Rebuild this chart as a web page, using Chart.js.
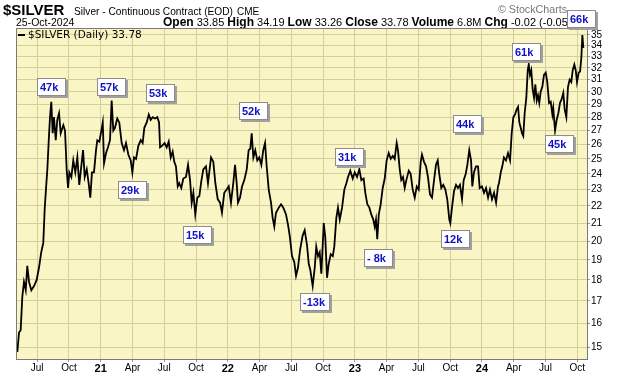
<!DOCTYPE html>
<html>
<head>
<meta charset="utf-8">
<script src="https://cdn.jsdelivr.net/npm/chart.js@4.4.1/dist/chart.umd.min.js"></script>
<style>
  html, body { margin: 0; padding: 0; background: #fff; }
  #wrap { width: 620px; height: 376px; }
</style>
</head>
<body>
<div id="wrap"><canvas id="silverChart" width="620" height="376"></canvas></div>
<script>
const dates = [
  2020.344, 2020.357, 2020.370, 2020.383, 2020.396, 2020.410, 2020.422, 2020.436, 2020.454, 2020.475,
  2020.496, 2020.514, 2020.532, 2020.548, 2020.559, 2020.569, 2020.580, 2020.591, 2020.601, 2020.611,
  2020.622, 2020.632, 2020.646, 2020.658, 2020.672, 2020.685, 2020.706, 2020.719, 2020.732, 2020.743,
  2020.753, 2020.769, 2020.784, 2020.800, 2020.816, 2020.831, 2020.847, 2020.861, 2020.874, 2020.890,
  2020.905, 2020.918, 2020.931, 2020.947, 2020.963, 2020.973, 2020.989, 2021.005, 2021.016, 2021.026,
  2021.042, 2021.057, 2021.073, 2021.086, 2021.099, 2021.112, 2021.130, 2021.146, 2021.165, 2021.183,
  2021.199, 2021.217, 2021.236, 2021.249, 2021.262, 2021.278, 2021.296, 2021.315, 2021.330, 2021.343,
  2021.362, 2021.378, 2021.393, 2021.409, 2021.427, 2021.445, 2021.459, 2021.467, 2021.482, 2021.503,
  2021.519, 2021.535, 2021.551, 2021.566, 2021.579, 2021.592, 2021.606, 2021.618, 2021.634, 2021.650,
  2021.671, 2021.687, 2021.703, 2021.716, 2021.729, 2021.744, 2021.760, 2021.776, 2021.791, 2021.807,
  2021.828, 2021.844, 2021.868, 2021.886, 2021.902, 2021.921, 2021.939, 2021.954, 2021.972, 2021.991,
  2022.007, 2022.025, 2022.043, 2022.057, 2022.070, 2022.080, 2022.096, 2022.112, 2022.130, 2022.149,
  2022.164, 2022.177, 2022.188, 2022.201, 2022.216, 2022.232, 2022.248, 2022.264, 2022.279, 2022.293,
  2022.306, 2022.322, 2022.340, 2022.353, 2022.366, 2022.379, 2022.401, 2022.419, 2022.437, 2022.458,
  2022.474, 2022.489, 2022.505, 2022.523, 2022.537, 2022.552, 2022.568, 2022.589, 2022.605, 2022.623,
  2022.637, 2022.649, 2022.668, 2022.684, 2022.696, 2022.710, 2022.723, 2022.736, 2022.755, 2022.767,
  2022.781, 2022.794, 2022.810, 2022.826, 2022.838, 2022.854, 2022.867, 2022.881, 2022.899, 2022.917,
  2022.933, 2022.946, 2022.964, 2022.983, 2022.999, 2023.017, 2023.035, 2023.051, 2023.069, 2023.082,
  2023.098, 2023.114, 2023.129, 2023.145, 2023.156, 2023.166, 2023.176, 2023.188, 2023.203, 2023.219,
  2023.235, 2023.250, 2023.266, 2023.282, 2023.298, 2023.313, 2023.329, 2023.339, 2023.353, 2023.365,
  2023.379, 2023.392, 2023.405, 2023.424, 2023.439, 2023.455, 2023.471, 2023.487, 2023.502, 2023.518,
  2023.528, 2023.544, 2023.560, 2023.575, 2023.591, 2023.607, 2023.623, 2023.638, 2023.652, 2023.664,
  2023.680, 2023.696, 2023.712, 2023.727, 2023.743, 2023.751, 2023.764, 2023.780, 2023.796, 2023.811,
  2023.827, 2023.843, 2023.856, 2023.872, 2023.885, 2023.900, 2023.914, 2023.924, 2023.937, 2023.953,
  2023.969, 2023.982, 2024.000, 2024.016, 2024.032, 2024.048, 2024.063, 2024.079, 2024.095, 2024.111,
  2024.126, 2024.134, 2024.148, 2024.160, 2024.173, 2024.189, 2024.205, 2024.221, 2024.234, 2024.247,
  2024.260, 2024.273, 2024.284, 2024.294, 2024.305, 2024.315, 2024.325, 2024.336, 2024.349, 2024.360,
  2024.368, 2024.378, 2024.388, 2024.399, 2024.410, 2024.420, 2024.431, 2024.441, 2024.451, 2024.462,
  2024.475, 2024.488, 2024.502, 2024.514, 2024.528, 2024.541, 2024.554, 2024.561, 2024.575, 2024.588,
  2024.601, 2024.614, 2024.627, 2024.640, 2024.651, 2024.664, 2024.677, 2024.690, 2024.703, 2024.714,
  2024.727, 2024.738, 2024.748, 2024.761, 2024.772, 2024.782, 2024.790, 2024.798
];
const closes = [
  14.8, 15.6, 15.7, 17.2, 17.9, 17.5, 18.7, 17.9, 17.5, 17.7,
  18.0, 18.6, 19.4, 19.9, 21.8, 23.0, 24.3, 26.3, 28.0, 29.2,
  26.8, 28.0, 26.3, 27.8, 28.3, 26.8, 27.4, 27.0, 24.3, 23.1,
  24.1, 23.8, 24.9, 24.1, 25.1, 23.3, 24.5, 25.6, 23.8, 24.3,
  23.4, 22.5, 24.1, 24.1, 25.6, 26.3, 26.2, 27.0, 27.6, 24.7,
  25.4, 25.8, 26.3, 29.3, 27.0, 27.2, 27.9, 27.6, 26.1, 25.6,
  26.1, 25.3, 24.9, 24.1, 25.1, 25.0, 25.9, 26.3, 26.1, 27.2,
  27.6, 28.2, 27.8, 28.0, 27.9, 28.0, 27.6, 25.8, 25.9, 26.1,
  25.8, 26.2, 25.1, 25.5, 24.8, 24.5, 23.2, 23.4, 23.1, 23.7,
  23.8, 24.6, 23.6, 22.2, 22.8, 21.5, 22.5, 22.6, 23.5, 24.3,
  24.5, 23.4, 25.1, 24.8, 23.4, 22.4, 22.2, 21.6, 22.8, 23.0,
  23.2, 22.2, 23.4, 24.6, 23.4, 22.2, 22.5, 23.2, 23.6, 24.3,
  25.6, 25.7, 26.8, 25.1, 25.6, 24.9, 25.1, 24.6, 25.6, 26.1,
  24.5, 23.0, 22.2, 21.3, 20.8, 21.6, 21.9, 22.1, 21.9, 21.5,
  20.9, 20.2, 19.2, 18.9, 18.2, 18.6, 19.5, 20.3, 20.6, 19.8,
  18.8, 18.5, 17.7, 18.6, 19.7, 19.2, 19.4, 18.3, 21.0, 20.2,
  18.1, 18.8, 19.3, 19.2, 19.7, 21.3, 21.9, 21.2, 21.9, 23.0,
  23.4, 23.8, 24.2, 23.7, 24.1, 23.8, 24.3, 23.6, 23.7, 22.8,
  22.1, 21.9, 21.5, 21.2, 20.8, 21.2, 20.1, 21.5, 22.1, 23.1,
  23.7, 24.9, 25.4, 25.0, 25.2, 25.0, 26.1, 25.6, 24.3, 23.6,
  23.8, 23.1, 23.6, 24.2, 24.0, 23.0, 22.5, 23.2, 23.0, 24.8,
  25.3, 24.8, 24.5, 23.8, 22.7, 22.5, 23.6, 24.6, 24.9, 24.0,
  23.1, 23.3, 23.0, 22.4, 21.2, 21.0, 21.9, 22.9, 23.3, 23.1,
  23.3, 22.4, 23.6, 24.0, 24.6, 25.6, 24.9, 23.2, 24.1, 24.5,
  24.5, 23.1, 23.2, 22.8, 23.1, 22.5, 23.0, 22.4, 22.8, 22.2,
  23.2, 23.4, 24.1, 24.5, 25.1, 24.9, 25.4, 24.9, 26.8, 28.0,
  28.2, 28.6, 28.8, 27.6, 27.2, 26.8, 26.6, 28.3, 29.5, 31.8,
  32.3, 31.4, 31.8, 30.2, 29.5, 30.6, 29.3, 29.7, 29.1, 30.0,
  30.4, 31.4, 31.6, 30.8, 29.1, 29.2, 28.2, 28.7, 27.0, 27.8,
  28.3, 29.1, 29.4, 29.9, 28.6, 28.0, 30.4, 31.0, 30.8, 31.8,
  32.3, 31.8, 30.8, 31.6, 31.7, 32.9, 35.0, 33.8
];

// net position notes shown in the boxes
const noteLabels = ['47k', '57k', '53k', '29k', '15k', '52k', '-13k', '31k', '- 8k', '44k', '12k', '61k', '45k', '66k'];
const noteDates  = [2020.617, 2021.089, 2021.474, 2021.254, 2021.766, 2022.206, 2022.686, 2022.962, 2023.190, 2023.890, 2023.796, 2024.354, 2024.614, 2024.787];
const notePrices = [30.39, 30.39, 29.90, 22.98, 20.34, 28.48, 16.95, 25.13, 19.11, 27.49, 20.12, 33.42, 26.04, 36.55];

const priceTicks = [15, 16, 17, 18, 19, 20, 21, 22, 23, 24, 25, 26, 27, 28, 29, 30, 31, 32, 33, 34, 35];
const xTickValues = [2020.5, 2020.75, 2021, 2021.25, 2021.5, 2021.75, 2022, 2022.25, 2022.5, 2022.75,
                     2023, 2023.25, 2023.5, 2023.75, 2024, 2024.25, 2024.5, 2024.75];
const xTickLabels = ['Jul', 'Oct', '21', 'Apr', 'Jul', 'Oct', '22', 'Apr', 'Jul', 'Oct',
                     '23', 'Apr', 'Jul', 'Oct', '24', 'Apr', 'Jul', 'Oct'];

const points = dates.map((d, i) => ({ x: d, y: closes[i] }));

// draws text pieces one after another on a line
function textRun(ctx, parts, x, y) {
    parts.forEach(p => {
        ctx.font = p[1];
        ctx.fillText(p[0], x, y);
        x += ctx.measureText(p[0]).width;
    });
}

const decor = {
    id: 'decor',
    beforeDraw(chart) {
        const { ctx, chartArea: a } = chart;
        ctx.save();
        ctx.fillStyle = '#ffffff';
        ctx.fillRect(0, 0, chart.width, chart.height);
        ctx.fillStyle = '#f9f5c4';
        ctx.fillRect(a.left, a.top, a.right - a.left, a.bottom - a.top);

        ctx.fillStyle = '#000';
        ctx.textBaseline = 'alphabetic';
        ctx.font = 'bold 15px Arial';
        ctx.fillText('$SILVER', 3, 15);
        ctx.font = '11px Arial';
        ctx.fillText('Silver - Continuous Contract (EOD)', 74, 15, 159);
        ctx.font = '10px Arial';
        ctx.fillText('CME', 237, 15);

        ctx.font = '10.5px Arial';
        ctx.fillText('25-Oct-2024', 16, 26, 59);
        textRun(ctx, [
            ['Open', 'bold 12px Arial'], [' 33.85 ', '11px Arial'],
            ['High', 'bold 12px Arial'], [' 34.19 ', '11px Arial'],
            ['Low', 'bold 12px Arial'], [' 33.26 ', '11px Arial'],
            ['Close', 'bold 12px Arial'], [' 33.78 ', '11px Arial'],
            ['Volume', 'bold 12px Arial'], [' 6.8M ', '11px Arial'],
            ['Chg', 'bold 12px Arial'], [' -0.02 (-0.05%)', '11px Arial']
        ], 163, 26);

        ctx.fillStyle = '#777';
        ctx.font = '11px Arial';
        ctx.fillText('\u00A9 StockCharts', 498, 13, 69);
        ctx.restore();
    },
    afterDatasetsDraw(chart) {
        const { ctx, chartArea: a } = chart;
        ctx.save();
        ctx.strokeStyle = '#7a7a7a';
        ctx.lineWidth = 1;
        ctx.strokeRect(a.left + 0.5, a.top + 0.5, a.right - a.left - 1, a.bottom - a.top - 1);

        // legend line inside the plot
        ctx.strokeStyle = '#000';
        ctx.lineWidth = 2;
        ctx.beginPath();
        ctx.moveTo(a.left + 2, a.top + 7);
        ctx.lineTo(a.left + 9, a.top + 7);
        ctx.stroke();
        ctx.fillStyle = '#000';
        ctx.font = '10.5px "DejaVu Sans"';
        ctx.textBaseline = 'middle';
        ctx.fillText('$SILVER (Daily) 33.78', a.left + 12, a.top + 7, 124);
        ctx.restore();
    },
    afterDraw(chart) {
        const { ctx } = chart;
        const xs = chart.scales.x, ys = chart.scales.y;
        ctx.save();
        ctx.font = 'bold 11px Arial';
        ctx.textBaseline = 'middle';
        noteLabels.forEach((txt, i) => {
            const cx = xs.getPixelForValue(noteDates[i]);
            const cy = ys.getPixelForValue(notePrices[i]);
            const w = Math.max(29, ctx.measureText(txt).width + 8);
            const h = 18;
            const left = Math.round(cx - 15), top = Math.round(cy - 9);
            ctx.fillStyle = '#a0a0a0';
            ctx.fillRect(left + 2, top + 2, w, h);
            ctx.fillStyle = '#ffffff';
            ctx.fillRect(left, top, w, h);
            ctx.strokeStyle = '#8c8c8c';
            ctx.lineWidth = 1;
            ctx.strokeRect(left + 0.5, top + 0.5, w - 1, h - 1);
            ctx.fillStyle = '#1010c4';
            ctx.fillText(txt, left + 3, top + h / 2 + 1);
        });
        ctx.restore();
    }
};

new Chart(document.getElementById('silverChart').getContext('2d'), {
    type: 'line',
    data: {
        datasets: [{
            label: '$SILVER (Daily)',
            data: points,
            borderColor: '#000',
            borderWidth: 1.8,
            pointRadius: 0,
            tension: 0,
            fill: false
        }]
    },
    options: {
        responsive: false,
        animation: false,
        layout: { padding: { left: 16, top: 28, right: 0, bottom: 0 } },
        plugins: { legend: { display: false }, tooltip: { enabled: false } },
        scales: {
            x: {
                type: 'linear',
                min: 2020.3333,
                max: 2024.8344,
                afterBuildTicks: s => { s.ticks = xTickValues.map(v => ({ value: v })); },
                afterFit: s => { s.height = 16; },
                ticks: {
                    autoSkip: false,
                    maxRotation: 0,
                    padding: 0,
                    color: '#000',
                    callback: (v, i) => xTickLabels[i],
                    font: c => ({
                        family: 'Arial',
                        size: /^\d/.test(xTickLabels[c.index]) ? 11 : 10,
                        weight: /^\d/.test(xTickLabels[c.index]) ? 'bold' : 'normal'
                    })
                },
                grid: { color: '#d4cd9c', tickLength: 2, tickColor: '#999' },
                border: { display: false }
            },
            y: {
                type: 'logarithmic',
                position: 'right',
                min: 14.48,
                max: 35.67,
                afterBuildTicks: s => { s.ticks = priceTicks.map(v => ({ value: v })); },
                afterFit: s => { s.width = 32; },
                ticks: {
                    padding: 1,
                    color: '#000',
                    font: { family: 'Arial', size: 10 },
                    callback: v => String(v)
                },
                grid: { color: '#d4cd9c', tickLength: 2, tickColor: '#999' },
                border: { display: false }
            }
        }
    },
    plugins: [decor]
});
</script>
</body>
</html>
